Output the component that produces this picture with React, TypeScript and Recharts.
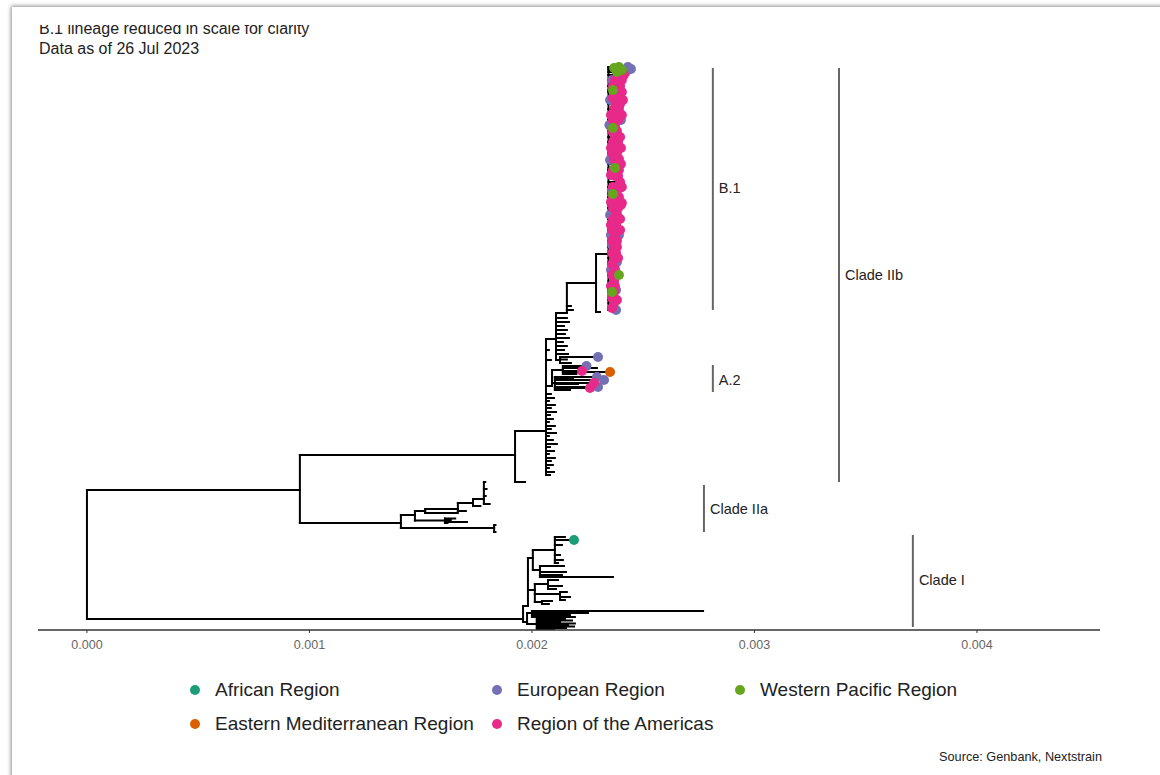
import React from 'react';
import { ComposedChart, XAxis, YAxis, Scatter, ReferenceLine, ReferenceDot } from 'recharts';

const FONT = '"Liberation Sans", Arial, Helvetica, sans-serif';

// divergence is in 1e-5 substitutions/site, y is the tip position counted from the bottom
type TreeRow = [string, string | null, number, number, string?];

const regionNames: Record<string, string> = {
  AFR: 'African Region',
  EUR: 'European Region',
  WPR: 'Western Pacific Region',
  EMR: 'Eastern Mediterranean Region',
  AMR: 'Region of the Americas',
};
const regionColors: Record<string, string> = {
  AFR: '#1b9e77',
  EUR: '#7570b3',
  WPR: '#66a61e',
  EMR: '#d95f02',
  AMR: '#e7298a',
};
const legendOrder = ['AFR', 'EUR', 'WPR', 'EMR', 'AMR'];
const drawOrder = ['EUR', 'AMR', 'WPR', 'AFR', 'EMR'];

const xTicks = [0, 0.001, 0.002, 0.003, 0.004];

const treeNodes: TreeRow[] = [
  ['root', null, 0, 76],
  ['II', 'root', 95.7, 140],
  ['I', 'root', 196.0, 11],
  // Clade IIa
  ['IIa', 'II', 141.1, 107],
  ['a1', 'IIa', 183.0, 102],
  ['a1t1', 'a1', 183.6, 98],
  ['a1t2', 'a1', 183.6, 105],
  ['a2', 'IIa', 147.4, 115],
  ['a21', 'a2', 160.9, 109.5],
  ['a21t1', 'a21', 170.8, 108],
  ['a21t2', 'a21', 163.5, 110],
  ['a21t3', 'a21', 165.5, 111.5],
  ['a21t4', 'a21', 162.0, 107],
  ['a22', 'a2', 152.0, 119],
  ['a22t1', 'a22', 166.7, 117],
  ['a23', 'a22', 166.7, 121],
  ['a23t1', 'a23', 170.3, 119],
  ['a24', 'a23', 173.5, 127],
  ['a24t1', 'a24', 176.8, 124],
  ['a25', 'a24', 178.4, 131],
  ['a25t1', 'a25', 181.0, 126],
  ['a25t2', 'a25', 179.2, 134],
  ['a25t3', 'a25', 179.6, 141],
  ['a25t4', 'a25', 179.0, 148],
  // Clade IIb
  ['IIb', 'II', 192.4, 175],
  ['IIbs', 'IIb', 196.9, 148],
  ['bm', 'IIb', 206.3, 199],
  ['bm1', 'bm', 208.5, 236],
  ['bm2', 'bm', 209.9, 232],
  ['bm3', 'bm', 207.6, 229],
  ['bm4', 'bm', 210.3, 225],
  ['bm5', 'bm', 208.5, 222],
  ['bm6', 'bm', 210.8, 218],
  ['bm7', 'bm', 208.1, 215],
  ['bm8', 'bm', 209.4, 211],
  ['bm9', 'bm', 207.6, 208],
  ['bm10', 'bm', 210.3, 204],
  ['bm11', 'bm', 208.5, 201],
  ['bm12', 'bm', 210.8, 197],
  ['bm13', 'bm', 207.6, 194],
  ['bm14', 'bm', 209.4, 190],
  ['bm15', 'bm', 211.2, 186],
  ['bm16', 'bm', 208.1, 183],
  ['bm17', 'bm', 209.9, 179],
  ['bm18', 'bm', 207.6, 176],
  ['bm19', 'bm', 210.3, 172],
  ['bm20', 'bm', 208.5, 169],
  ['bm21', 'bm', 209.4, 165],
  ['bm22', 'bm', 207.6, 162],
  ['bm23', 'bm', 209.9, 158],
  ['bm24', 'bm', 208.1, 155],
  ['bm25', 'bm', 207.6, 280],
  ['bm26', 'bm', 208.5, 270],
  // A.2
  ['ag', 'bm', 209.0, 244],
  ['ag1', 'ag', 213.9, 260],
  ['ag1t1', 'ag1', 235.1, 258, 'EMR'],
  ['ag1t2', 'ag1', 222.5, 259, 'AMR'],
  ['ag1t3', 'ag1', 224.5, 264, 'EUR'],
  ['ag1t4', 'ag1', 229.2, 262],
  ['ag1t5', 'ag1', 220.0, 256],
  ['ag2', 'ag', 210.3, 247],
  ['ag2t1', 'ag2', 226.1, 242, 'AMR'],
  ['ag2t2', 'ag2', 227.9, 247, 'AMR'],
  ['ag2t3', 'ag2', 229.2, 253, 'EUR'],
  ['ag2t4', 'ag2', 232.4, 250, 'EUR'],
  ['ag2t5', 'ag2', 229.7, 243, 'EUR'],
  ['ag2t6', 'ag2', 218.4, 252],
  ['ag2t7', 'ag2', 220.7, 246],
  ['ag2t8', 'ag2', 217.1, 240],
  // towards B.1
  ['bu', 'bm', 210.8, 291],
  ['bu1', 'bu', 215.7, 312],
  ['bu2', 'bu', 216.6, 308],
  ['bu3', 'bu', 214.4, 304],
  ['bu4', 'bu', 215.7, 300],
  ['bu5', 'bu', 214.8, 296],
  ['bu6', 'bu', 216.6, 292],
  ['bu7', 'bu', 213.9, 288],
  ['bu8', 'bu', 215.7, 284],
  ['bu9', 'bu', 214.4, 280],
  ['bu10', 'bu', 216.2, 276],
  ['bp', 'bu', 212.6, 270],
  ['bp1', 'bp', 229.7, 273, 'EUR'],
  ['bp2', 'bp', 217.5, 267],
  ['bp3', 'bp', 215.7, 270.5],
  ['bb1', 'bu', 215.7, 317],
  ['bb1t1', 'bb1', 218.4, 320],
  ['bb1t2', 'bb1', 217.5, 324],
  ['b1anc', 'bb1', 228.8, 347],
  ['b1anct', 'b1anc', 230.6, 318],
  ['B1', 'b1anc', 234.4, 376],
  // Clade I
  ['ia', 'I', 198.2, 24],
  ['ia1', 'ia', 200.4, 72],
  ['ia11', 'ia1', 210.3, 80],
  ['ia11t1', 'ia11', 218.9, 90, 'AFR'],
  ['ia11t2', 'ia11', 214.8, 93],
  ['ia11t3', 'ia11', 213.5, 85],
  ['ia11t4', 'ia11', 212.6, 75],
  ['ia11t5', 'ia11', 213.9, 70],
  ['ia11t6', 'ia11', 211.7, 67],
  ['ia12', 'ia1', 203.6, 60],
  ['ia12t1', 'ia12', 214.4, 64],
  ['ia12t2', 'ia12', 215.3, 58],
  ['ia12t3', 'ia12', 213.5, 55],
  ['ia12t4', 'ia12', 236.4, 53],
  ['ia2', 'ia', 201.3, 40],
  ['ia21', 'ia2', 207.2, 46],
  ['ia21t1', 'ia21', 211.7, 50],
  ['ia21t2', 'ia21', 213.5, 44],
  ['ia21t3', 'ia21', 210.8, 41],
  ['ia22', 'ia2', 212.6, 36],
  ['ia22t1', 'ia22', 215.7, 38],
  ['ia22t2', 'ia22', 217.1, 33],
  ['ia22t3', 'ia22', 214.8, 30],
  ['ia23', 'ia2', 204.5, 28],
  ['ia23t1', 'ia23', 209.0, 29],
  ['ia23t2', 'ia23', 207.6, 26],
  ['ib', 'I', 197.8, 8],
  ['ib1', 'ib', 200.0, 17],
  ['ib1t1', 'ib1', 276.9, 19],
  ['ib1t2', 'ib1', 225.2, 17],
  ['ib1t3', 'ib1', 217.1, 15],
  ['ib1t4', 'ib1', 219.3, 13],
  ['ib2', 'ib', 202.2, 6],
  ['ib2t1', 'ib2', 214.8, 11],
  ['ib2t2', 'ib2', 218.0, 9.5],
  ['ib2t3', 'ib2', 212.6, 8],
  ['ib2t4', 'ib2', 219.3, 6.5],
  ['ib2t5', 'ib2', 216.2, 5],
  ['ib2t6', 'ib2', 218.9, 3.5],
  ['ib2t7', 'ib2', 215.3, 2],
  ['ib2t8', 'ib2', 210.0, 1],
];

// B.1 tips (children of node B1), [divergence, y]
const b1European: [number, number][] = [
  [243.1, 563], [244.5, 561], [242.2, 558], [236.0, 550], [235.1, 530], [240.0, 510],
  [234.8, 505], [235.1, 470], [236.0, 440], [239.6, 442], [235.1, 415], [235.5, 395],
  [239.1, 395], [236.0, 385], [238.2, 368], [235.5, 360], [237.8, 340], [237.3, 330],
  [237.8, 320],
];
const b1Americas: [number, number][] = [
  [238.7, 555], [241.3, 555], [237.3, 550], [240.4, 550], [236.4, 544], [239.6, 544],
  [237.8, 538], [240.4, 538], [236.4, 532], [239.1, 532], [240.9, 530], [237.8, 526],
  [239.6, 526], [236.9, 521], [239.1, 521], [235.5, 515], [238.2, 515], [240.4, 515],
  [236.4, 510], [238.7, 510], [237.3, 504], [236.0, 499], [238.2, 499], [237.3, 493],
  [239.6, 493], [236.4, 488], [238.7, 488], [235.5, 482], [237.8, 482], [240.0, 482],
  [236.0, 477], [238.2, 477], [236.9, 471], [239.1, 471], [237.8, 466], [240.0, 466],
  [236.4, 460], [239.1, 460], [235.5, 455], [237.3, 454], [238.7, 454], [239.6, 448],
  [236.4, 443], [240.4, 443], [237.8, 438], [236.4, 433], [239.1, 433], [235.5, 428],
  [237.8, 427], [240.4, 427], [240.0, 425], [236.4, 422], [238.7, 422], [238.2, 416],
  [236.4, 411], [239.6, 411], [237.8, 405], [235.5, 405], [236.0, 400], [239.6, 400],
  [237.3, 394], [236.0, 389], [238.2, 389], [236.9, 383], [238.2, 383], [236.0, 377],
  [237.8, 377], [236.9, 372], [238.7, 372], [236.0, 366], [237.3, 361], [236.0, 355],
  [237.8, 355], [236.9, 349], [235.5, 344], [237.3, 344], [236.9, 338], [236.0, 332],
  [238.2, 330], [236.9, 327], [236.0, 322],
];
const b1WesternPacific: [number, number][] = [
  [236.9, 562], [239.1, 563], [240.4, 560], [238.2, 558], [236.4, 540], [236.4, 502],
  [237.3, 462], [236.4, 436], [239.1, 355], [236.0, 338],
];

const cladeBars = [
  { name: 'B.1', div: 281.3, yTop: 562, yBottom: 320, yLabel: 442 },
  { name: 'A.2', div: 281.3, yTop: 265, yBottom: 238, yLabel: 250 },
  { name: 'Clade IIb', div: 338.0, yTop: 562, yBottom: 148, yLabel: 355 },
  { name: 'Clade IIa', div: 277.3, yTop: 145, yBottom: 98, yLabel: 121 },
  { name: 'Clade I', div: 371.2, yTop: 95, yBottom: 3, yLabel: 50 },
];

const toX = (div: number) => div / 1e5;

// assemble nodes (B.1 tips hang off node B1)
const allNodes: TreeRow[] = [...treeNodes];
b1European.forEach(([d, y], i) => allNodes.push([`eu${i}`, 'B1', d, y, 'EUR']));
b1Americas.forEach(([d, y], i) => allNodes.push([`am${i}`, 'B1', d, y, 'AMR']));
b1WesternPacific.forEach(([d, y], i) => allNodes.push([`wp${i}`, 'B1', d, y, 'WPR']));

const byId = new Map(allNodes.map((n) => [n[0], n]));

type Seg = { x1: number; y1: number; x2: number; y2: number };
const segments: Seg[] = [];
const spans = new Map<string, [number, number]>();
allNodes.forEach(([, parent, div, y]) => {
  if (!parent) return;
  const p = byId.get(parent)!;
  segments.push({ x1: toX(p[2]), y1: y, x2: toX(div), y2: y });
  const s = spans.get(parent) || [p[3], p[3]];
  spans.set(parent, [Math.min(s[0], y), Math.max(s[1], y)]);
});
spans.forEach(([lo, hi], id) => {
  const p = byId.get(id)!;
  segments.push({ x1: toX(p[2]), y1: lo, x2: toX(p[2]), y2: hi });
});

const tipsByRegion: Record<string, { x: number; y: number }[]> = {};
allNodes.forEach(([, , div, y, region]) => {
  if (!region) return;
  (tipsByRegion[region] = tipsByRegion[region] || []).push({ x: toX(div), y });
});

const chartMargin = { top: 60, right: 60, bottom: 40, left: 38 };
const xDomain: [number, number] = [-0.00022, 0.004553];

const App: React.FC = () => {
  return (
    <div style={{ position: 'absolute', left: 0, top: 0, width: 1160, height: 775, background: '#fff', overflow: 'hidden', fontFamily: FONT }}>
      <div style={{ position: 'absolute', left: 12, top: 7, width: 1300, height: 900, boxShadow: '-1px -1px 4px rgba(0,0,0,0.45)' }} />
      <div style={{ position: 'absolute', left: 39, top: 25, width: 500, height: 40, overflow: 'hidden' }}>
        <div style={{ marginTop: -6, fontSize: 16, lineHeight: '19.5px', color: '#222' }}>
          <div>B.1 lineage reduced in scale for clarity</div>
          <div>Data as of 26 Jul 2023</div>
        </div>
      </div>
      {/* tree branches and axis */}
      <div style={{ position: 'absolute', left: 0, top: 0 }}>
        <ComposedChart width={1160} height={700} margin={chartMargin}>
          <XAxis
            type="number"
            dataKey="x"
            domain={xDomain}
            ticks={xTicks}
            allowDataOverflow
            tickFormatter={(v: number) => v.toFixed(3)}
            axisLine={{ stroke: '#333', strokeWidth: 1.5 }}
            tickLine={{ stroke: '#333' }}
            tickSize={3}
            tickMargin={7}
            tick={{ fill: '#666', fontSize: 12.5, fontFamily: FONT }}
          />
          <YAxis type="number" dataKey="y" domain={[0, 570]} allowDataOverflow hide />
          {segments.map((s, i) => (
            <ReferenceLine
              key={`seg${i}`}
              segment={[{ x: s.x1, y: s.y1 }, { x: s.x2, y: s.y2 }]}
              stroke="#000"
              strokeWidth={2}
              strokeLinecap="square"
              ifOverflow="visible"
            />
          ))}
          {cladeBars.map((c) => (
            <ReferenceLine
              key={`bar${c.name}`}
              segment={[{ x: toX(c.div), y: c.yTop }, { x: toX(c.div), y: c.yBottom }]}
              stroke="#666"
              strokeWidth={2}
              ifOverflow="visible"
            />
          ))}
          {cladeBars.map((c) => (
            <ReferenceDot
              key={`lab${c.name}`}
              x={toX(c.div)}
              y={c.yLabel}
              r={0.01}
              fill="none"
              stroke="none"
              ifOverflow="visible"
              label={{ value: c.name, position: 'right', offset: 6, fill: '#222', fontSize: 14.5, fontFamily: FONT }}
            />
          ))}
        </ComposedChart>
      </div>
      {/* tip points, same scales, drawn above the branches */}
      <div style={{ position: 'absolute', left: 0, top: 0 }}>
        <ComposedChart width={1160} height={700} margin={chartMargin}>
          <XAxis type="number" dataKey="x" domain={xDomain} ticks={xTicks} allowDataOverflow axisLine={false} tickLine={false} tick={false} />
          <YAxis type="number" dataKey="y" domain={[0, 570]} allowDataOverflow hide />
          {drawOrder.map((r) => (
            <Scatter
              key={r}
              name={regionNames[r]}
              data={tipsByRegion[r] || []}
              fill={regionColors[r]}
              isAnimationActive={false}
              shape={(p: any) => <circle cx={p.cx} cy={p.cy} r={5} fill={regionColors[r]} />}
            />
          ))}
        </ComposedChart>
      </div>
      {legendOrder.map((r, i) => {
        const col = i % 3;
        const row = Math.floor(i / 3);
        const left = [195, 497, 740][col];
        const top = 690 + row * 34;
        return (
          <div key={r} style={{ position: 'absolute', left: left - 5, top: top - 12, height: 24, display: 'flex', alignItems: 'center' }}>
            <span style={{ width: 10, height: 10, borderRadius: 5, background: regionColors[r], display: 'inline-block' }} />
            <span style={{ marginLeft: 15, fontSize: 19, color: '#222' }}>{regionNames[r]}</span>
          </div>
        );
      })}
      <div style={{ position: 'absolute', right: 58, top: 750, fontSize: 12.7, color: '#222' }}>Source: Genbank, Nextstrain</div>
    </div>
  );
};

export default App;
